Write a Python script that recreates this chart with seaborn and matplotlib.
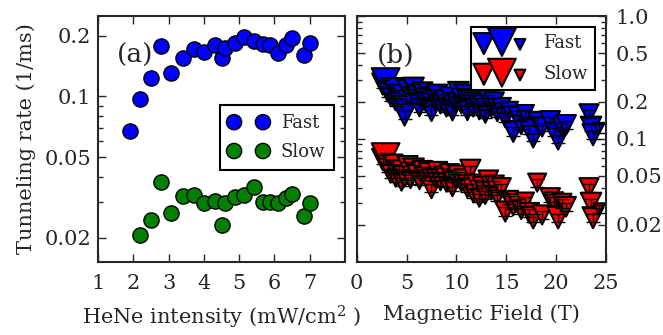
import numpy as np
import matplotlib
matplotlib.use("Agg")
import matplotlib.pyplot as plt
import matplotlib.ticker as mticker
import seaborn as sns

# panel (a): rate vs HeNe intensity
hene_fast = [1.90, 2.18, 2.49, 2.78, 3.06, 3.40, 3.72, 4.01, 4.33, 4.53, 4.59,
             4.88, 5.15, 5.41, 5.67, 5.89, 6.11, 6.33, 6.49, 6.85, 7.01]
rate_fast = [0.0675, 0.097, 0.124, 0.178, 0.131, 0.155, 0.171, 0.166, 0.180, 0.155, 0.173,
             0.183, 0.196, 0.189, 0.182, 0.179, 0.165, 0.180, 0.195, 0.161, 0.184]
hene_slow = [2.18, 2.49, 2.78, 3.06, 3.40, 3.72, 4.01, 4.33, 4.53, 4.59,
             4.88, 5.15, 5.41, 5.67, 5.89, 6.11, 6.33, 6.49, 6.85, 7.01]
rate_slow = [0.0206, 0.0243, 0.0377, 0.0266, 0.0320, 0.0324, 0.0296, 0.0303, 0.0232, 0.0297,
             0.0317, 0.0324, 0.0358, 0.0299, 0.0301, 0.0297, 0.0315, 0.0330, 0.0257, 0.0296]

# panel (b): rate vs magnetic field
field = [2.6, 2.9, 3.1, 3.4, 3.6, 3.9, 4.2, 4.5, 4.8, 5.1, 5.4, 5.7, 6.0, 6.3, 6.6,
         6.9, 7.2, 7.5, 7.8, 8.1, 8.4, 8.7, 9.0, 9.3, 9.6, 9.9, 10.2, 10.5, 10.8,
         11.1, 11.4, 11.7, 12.0, 12.3, 12.6, 12.9, 13.2, 13.5, 13.8, 14.1, 14.5,
         14.9, 15.3, 15.7, 16.1, 16.5, 16.9, 17.3, 17.7, 18.1, 18.6, 19.4, 19.8,
         20.2, 20.6, 21.0, 23.3, 23.5, 23.7, 24.3]
fast_b = [0.28, 0.29, 0.24, 0.22, 0.26, 0.20, 0.23, 0.19, 0.157, 0.25, 0.22, 0.26,
          0.21, 0.18, 0.24, 0.20, 0.22, 0.17, 0.21, 0.23, 0.19, 0.21, 0.18, 0.22,
          0.17, 0.20, 0.24, 0.19, 0.23, 0.17, 0.21, 0.18, 0.20, 0.17, 0.19, 0.16,
          0.21, 0.18, 0.20, 0.165, 0.18, 0.15, 0.17, 0.115, 0.155, 0.13, 0.16, 0.12,
          0.104, 0.14, 0.125, 0.14, 0.115, 0.10, 0.125, 0.13, 0.16, 0.125, 0.108, 0.122]
slow_b = [0.068, 0.071, 0.058, 0.052, 0.062, 0.048, 0.056, 0.0446, 0.050, 0.060,
          0.047, 0.057, 0.052, 0.046, 0.055, 0.050, 0.053, 0.040, 0.049, 0.054,
          0.045, 0.050, 0.044, 0.052, 0.041, 0.048, 0.050, 0.044, 0.047, 0.040,
          0.056, 0.036, 0.043, 0.033, 0.041, 0.035, 0.046, 0.038, 0.042, 0.034,
          0.040, 0.0256, 0.032, 0.029, 0.030, 0.0265, 0.031, 0.025, 0.0228, 0.044,
          0.024, 0.033, 0.031, 0.0228, 0.030, 0.028, 0.040, 0.030, 0.0228, 0.027]
point_size = [230, 400, 180, 160, 200, 150, 190, 160, 240, 210, 170, 220, 180, 160,
              200, 170, 190, 230, 170, 200, 160, 180, 170, 190, 200, 170, 220, 160,
              200, 190, 210, 170, 180, 160, 180, 170, 200, 160, 190, 170, 190, 210,
              160, 230, 170, 180, 160, 200, 240, 170, 190, 200, 170, 240, 180, 200,
              190, 220, 230, 60]

sns.set_style("ticks")
plt.rcParams["font.family"] = ["DejaVu Serif"]
plt.rcParams["mathtext.fontset"] = "dejavuserif"
plt.rcParams["axes.linewidth"] = 1.5

fig = plt.figure(figsize=(6.63, 3.35), dpi=100)
ax1 = fig.add_axes([0.148, 0.219, 0.372, 0.733])
ax2 = fig.add_axes([0.538, 0.219, 0.376, 0.733])

# (a)
sns.scatterplot(x=hene_fast, y=rate_fast, ax=ax1, color="#0000ff", s=120,
                edgecolor="k", linewidth=1, label="Fast", legend=False, zorder=3)
sns.scatterplot(x=hene_slow, y=rate_slow, ax=ax1, color="#008000", s=120,
                edgecolor="k", linewidth=1, label="Slow", legend=False, zorder=3)
ax1.set_yscale("log")
ax1.set_xlim(1, 8)
ax1.set_ylim(0.0152, 0.25)
ax1.set_xticks([1, 2, 3, 4, 5, 6, 7])
ax1.yaxis.set_major_locator(mticker.FixedLocator([0.02, 0.05, 0.1, 0.2]))
ax1.yaxis.set_major_formatter(mticker.FixedFormatter(["0.02", "0.05", "0.1", "0.2"]))
ax1.yaxis.set_minor_locator(mticker.LogLocator(subs=np.arange(2, 10)))
ax1.yaxis.set_minor_formatter(mticker.NullFormatter())
ax1.set_xlabel(r"HeNe intensity (mW/cm$^2$ )", fontsize=15, labelpad=8)
ax1.set_ylabel("Tunneling rate (1/ms)", fontsize=15, labelpad=6)
ax1.text(0.076, 0.81, "(a)", transform=ax1.transAxes, fontsize=19)
leg1 = ax1.legend(loc="upper right", bbox_to_anchor=(0.958, 0.636), scatterpoints=2,
                  scatteryoffsets=[0.5], fontsize=13, fancybox=False, framealpha=1,
                  edgecolor="k", borderpad=0.5, labelspacing=0.6, handlelength=2.2,
                  handletextpad=0.7, borderaxespad=0)
leg1.get_frame().set_linewidth(1.5)

# (b)
sns.scatterplot(x=field, y=fast_b, size=point_size, sizes=(60, 400), ax=ax2,
                color="#0000ff", marker="v", edgecolor="k", linewidth=1.5,
                label="Fast", legend=False, zorder=1)
sns.scatterplot(x=field, y=slow_b, size=point_size, sizes=(60, 400), ax=ax2,
                color="#ff0000", marker="v", edgecolor="k", linewidth=1.5,
                label="Slow", legend=False, zorder=1)
ax2.errorbar(field, fast_b, yerr=np.array(fast_b) * 0.08, fmt="none", ecolor="k",
             elinewidth=1, capsize=5, capthick=1, zorder=2)
ax2.errorbar(field, slow_b, yerr=np.array(slow_b) * 0.08, fmt="none", ecolor="k",
             elinewidth=1, capsize=5, capthick=1, zorder=2)
ax2.set_yscale("log")
ax2.set_xlim(0, 25)
ax2.set_ylim(0.01, 1.0)
ax2.set_xticks([0, 5, 10, 15, 20, 25])
ax2.yaxis.set_major_locator(mticker.FixedLocator([0.02, 0.05, 0.1, 0.2, 0.5, 1.0]))
ax2.yaxis.set_major_formatter(mticker.FixedFormatter(["0.02", "0.05", "0.1", "0.2", "0.5", "1.0"]))
ax2.yaxis.set_minor_locator(mticker.LogLocator(subs=np.arange(2, 10)))
ax2.yaxis.set_minor_formatter(mticker.NullFormatter())
ax2.set_xlabel("Magnetic Field (T)", fontsize=15, labelpad=8)
ax2.text(0.08, 0.81, "(b)", transform=ax2.transAxes, fontsize=19)
leg2 = ax2.legend(loc="upper right", bbox_to_anchor=(0.956, 0.955), scatterpoints=3,
                  fontsize=13, fancybox=False, framealpha=1, edgecolor="k",
                  borderpad=0.4, labelspacing=0.7, handlelength=2.6,
                  handletextpad=1.0, borderaxespad=0)
leg2.get_frame().set_linewidth(1.5)

for ax in (ax1, ax2):
    ax.tick_params(which="both", direction="in", top=True, right=True, left=True,
                   bottom=True, labelsize=15, width=1)
    ax.tick_params(which="major", length=6)
    ax.tick_params(which="minor", length=3.5)
    ax.tick_params(axis="x", pad=9)
ax1.tick_params(axis="y", pad=5)
ax2.tick_params(axis="y", labelleft=False, labelright=True, pad=7)

fig.savefig("out.png", dpi=100)
